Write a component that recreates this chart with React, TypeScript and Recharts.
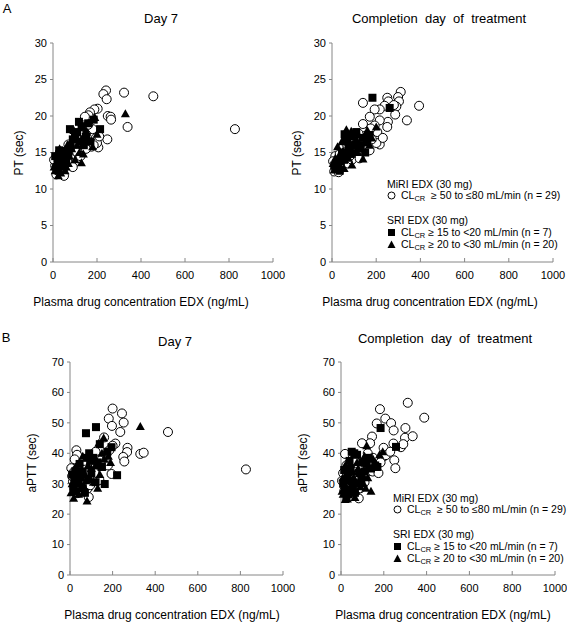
import React from 'react';
import { ScatterChart, Scatter, XAxis, YAxis } from 'recharts';

// axis ticks
const xTicks = [0, 200, 400, 600, 800, 1000];
const ptTicks = [0, 5, 10, 15, 20, 25, 30];
const apttTicks = [0, 10, 20, 30, 40, 50, 60, 70];

// [plasma EDX ng/mL, seconds]
const ptDay7Miri = [
  [827, 18.2], [456, 22.7], [323, 23.2], [241, 23.5], [229, 23.0], [244, 22.3], [339, 18.5], [247, 16.8],
  [206, 15.7], [249, 20.0], [262, 19.9], [264, 19.5], [203, 21.0], [188, 20.9], [168, 20.5], [161, 20.1],
  [145, 19.9], [180, 18.2], [195, 17.0], [200, 16.3], [175, 15.8], [150, 17.5], [120, 16.2], [95, 16.5],
  [70, 16.1], [60, 15.2], [40, 14.6], [25, 13.5], [15, 12.0], [30, 12.3], [45, 12.6], [55, 13.4],
  [80, 14.2], [100, 15.4], [130, 17.8], [140, 18.5], [160, 18.8], [110, 15.0], [20, 14.2], [10, 13.2],
  [35, 15.0], [65, 13.8], [90, 13.0], [50, 11.8], [75, 15.5], [125, 14.5], [185, 16.0], [210, 17.2],
  [150, 15.5], [5, 14.0],
];
const ptDay7Sri15 = [
  [77, 18.2], [118, 19.2], [214, 18.2], [55, 15.0], [130, 18.5], [100, 17.5], [90, 16.8], [150, 17.0],
  [170, 16.5], [185, 19.5], [40, 13.5], [30, 14.8], [20, 14.2], [15, 13.0], [60, 14.0], [110, 17.8],
  [140, 16.0], [25, 12.5], [45, 15.2], [70, 15.0], [120, 16.5], [160, 19.0], [35, 13.8], [80, 16.0],
  [10, 14.5], [50, 13.2], [28, 15.3], [65, 14.6],
];
const ptDay7Sri20 = [
  [329, 20.3], [129, 13.6], [24, 11.8], [138, 14.8], [180, 15.8], [160, 17.0], [100, 14.0], [60, 13.0],
  [10, 12.5], [20, 13.8], [30, 15.5], [40, 14.2], [15, 14.8], [50, 15.0], [70, 13.5], [85, 15.5],
  [110, 16.0], [130, 16.8], [150, 18.0], [190, 19.8], [95, 18.0], [45, 13.2], [35, 12.2], [25, 14.5],
  [5, 13.0], [120, 15.0], [65, 16.0], [75, 14.5], [55, 12.5], [200, 17.5], [12, 13.5], [38, 13.0],
];

const ptEndMiri = [
  [394, 21.4], [339, 19.4], [311, 23.3], [299, 22.6], [303, 22.0], [291, 21.3], [286, 20.2], [250, 22.5],
  [255, 22.0], [238, 21.4], [253, 19.2], [250, 18.5], [216, 19.4], [216, 20.9], [193, 20.9], [140, 21.8],
  [171, 19.9], [140, 18.9], [193, 18.7], [216, 16.1], [201, 16.3], [150, 17.3], [120, 17.6], [100, 16.9],
  [85, 15.8], [60, 15.2], [50, 14.4], [40, 13.2], [25, 12.8], [10, 12.4], [30, 12.3], [70, 13.5],
  [90, 14.0], [110, 15.0], [130, 16.5], [160, 17.2], [180, 16.8], [205, 17.8], [170, 15.3], [20, 13.5],
  [15, 14.5], [45, 15.5], [65, 16.2], [80, 14.5], [230, 17.0], [280, 21.5], [175, 18.3], [125, 14.2],
  [35, 14.8], [5, 13.8],
];
const ptEndSri15 = [
  [183, 22.5], [261, 21.1], [57, 17.5], [65, 16.5], [90, 17.2], [100, 16.0], [120, 15.6], [140, 17.0],
  [160, 16.5], [30, 14.0], [20, 13.5], [45, 15.0], [75, 15.5], [110, 17.8], [130, 16.0], [15, 12.8],
  [35, 12.5], [55, 14.0], [85, 14.8], [170, 17.4], [10, 13.2], [60, 17.0], [150, 15.0], [40, 13.8],
];
const ptEndSri20 = [
  [140, 14.1], [90, 13.3], [65, 18.1], [87, 17.9], [70, 17.0], [110, 16.8], [120, 17.4], [150, 16.3],
  [180, 17.0], [50, 15.2], [30, 14.5], [20, 13.0], [10, 12.6], [40, 14.0], [60, 14.8], [80, 15.8],
  [100, 15.0], [130, 15.5], [160, 18.0], [200, 18.5], [25, 15.8], [45, 16.5], [35, 13.3], [15, 14.2],
  [55, 12.8], [75, 14.2], [95, 16.2], [115, 15.0], [5, 13.5], [170, 16.0],
];

const apttDay7Miri = [
  [826, 34.7], [460, 47.0], [200, 54.7], [244, 53.1], [252, 50.1], [182, 51.4], [197, 49.0], [236, 47.0],
  [160, 45.2], [213, 43.2], [270, 41.8], [268, 40.4], [250, 38.8], [255, 37.3], [330, 39.8], [346, 40.2],
  [200, 42.5], [185, 41.0], [195, 33.2], [160, 36.0], [178, 36.0], [140, 35.8], [30, 41.0], [33, 39.5],
  [22, 38.0], [6, 35.1], [45, 33.5], [88, 25.6], [84, 28.5], [138, 31.2], [107, 32.4], [84, 34.0],
  [58, 35.7], [123, 36.8], [61, 29.1], [14, 30.7], [37, 26.9], [10, 32.5], [25, 29.0], [50, 31.0],
  [70, 30.5], [95, 29.5], [115, 33.5], [150, 38.0], [170, 39.5], [120, 40.5], [65, 37.5], [40, 28.0],
  [20, 34.0], [100, 36.5],
];
const apttDay7Sri15 = [
  [75, 46.6], [122, 48.6], [221, 32.8], [163, 29.9], [195, 42.0], [175, 40.5], [140, 43.0], [90, 40.0],
  [95, 37.5], [110, 38.5], [130, 37.0], [60, 34.0], [50, 32.0], [40, 30.0], [30, 27.5], [20, 31.5],
  [15, 29.0], [70, 27.0], [85, 31.5], [100, 33.5], [120, 30.5], [150, 35.5], [45, 36.5], [25, 34.0],
  [80, 38.5], [60, 28.5], [10, 33.0], [35, 31.0],
];
const apttDay7Sri20 = [
  [330, 48.8], [158, 45.0], [17, 25.2], [80, 24.3], [135, 43.3], [130, 28.5], [110, 30.5], [180, 39.0],
  [190, 37.0], [150, 40.0], [100, 35.0], [70, 33.0], [50, 30.0], [35, 32.0], [20, 28.0], [10, 30.0],
  [5, 27.0], [45, 37.0], [60, 39.0], [25, 35.5], [90, 32.0], [120, 36.0], [140, 33.0], [40, 26.5],
  [65, 29.0], [85, 36.0], [160, 38.0], [30, 30.5], [55, 34.5], [75, 31.0],
];

const apttEndMiri = [
  [312, 56.6], [389, 51.7], [182, 54.5], [207, 51.4], [167, 49.8], [234, 49.9], [246, 47.5], [245, 43.2],
  [301, 48.3], [299, 45.1], [335, 45.6], [280, 42.0], [291, 43.0], [249, 37.7], [254, 35.1], [199, 41.8],
  [200, 39.0], [145, 45.5], [136, 43.3], [98, 43.3], [125, 40.0], [19, 39.8], [39, 36.8], [117, 33.5],
  [83, 25.2], [148, 34.0], [164, 35.6], [210, 39.4], [175, 33.5], [230, 40.5], [150, 38.5], [105, 37.0],
  [60, 34.0], [30, 30.0], [15, 27.5], [50, 29.0], [75, 32.0], [90, 28.5], [10, 33.5], [25, 36.0],
  [65, 37.5], [130, 36.5], [185, 37.0], [45, 27.0], [110, 30.5], [5, 31.0],
];
const apttEndSri15 = [
  [185, 48.3], [257, 42.1], [50, 40.5], [62, 40.0], [75, 39.5], [100, 37.0], [120, 36.5], [140, 35.0],
  [160, 36.0], [170, 35.5], [30, 33.0], [40, 31.0], [55, 29.0], [70, 30.0], [85, 33.5], [20, 28.0],
  [35, 26.5], [10, 30.0], [45, 35.0], [95, 31.5], [110, 34.0], [130, 38.5], [25, 25.5], [65, 27.0],
  [15, 34.5], [40, 37.5],
];
const apttEndSri20 = [
  [120, 42.5], [140, 27.5], [110, 39.0], [150, 38.0], [180, 39.5], [100, 33.0], [80, 35.0], [60, 32.0],
  [40, 28.0], [20, 24.8], [30, 25.0], [10, 26.5], [50, 30.5], [70, 27.5], [90, 29.0], [130, 35.5],
  [160, 37.0], [45, 36.5], [25, 31.5], [15, 29.5], [55, 34.0], [75, 37.0], [85, 31.0], [105, 30.0],
  [5, 27.5], [65, 25.5], [35, 33.5], [115, 28.5], [125, 32.0], [195, 40.5], [20, 36.0], [8, 32.0],
];

const FONT = '"Liberation Sans", Arial, sans-serif';
const AXIS = '#868686';

const toPts = (arr: number[][]) => arr.map(([x, y]) => ({ x, y }));

const OpenCircle = (p: any) => (
  <circle cx={p.cx} cy={p.cy} r={4.5} fill="#fff" stroke="#000" strokeWidth={1} />
);
const FilledSquare = (p: any) => (
  <rect x={p.cx - 4} y={p.cy - 4} width={8} height={8} fill="#000" />
);
const FilledTriangle = (p: any) => (
  <polygon
    points={`${p.cx},${p.cy - 4.5} ${p.cx + 4.5},${p.cy + 3.5} ${p.cx - 4.5},${p.cy + 3.5}`}
    fill="#000"
  />
);

interface PanelProps {
  left: number;
  top: number;
  width: number;
  height: number;
  margin: { top: number; right: number; bottom: number; left: number };
  yAxisWidth: number;
  yMax: number;
  yTicks: number[];
  miri: number[][];
  sri15: number[][];
  sri20: number[][];
}

const Panel = (p: PanelProps) => (
  <div style={{ position: 'absolute', left: p.left, top: p.top }}>
    <ScatterChart width={p.width} height={p.height} margin={p.margin}>
      <XAxis
        type="number"
        dataKey="x"
        domain={[0, 1000]}
        ticks={xTicks}
        interval={0}
        height={20}
        stroke={AXIS}
        tickSize={-4}
        tickMargin={13}
        tick={{ fill: '#000', fontSize: 11, fontFamily: FONT }}
      />
      <YAxis
        type="number"
        dataKey="y"
        domain={[0, p.yMax]}
        ticks={p.yTicks}
        interval={0}
        width={p.yAxisWidth}
        stroke={AXIS}
        tickSize={3}
        tickMargin={3}
        tick={{ fill: '#000', fontSize: 11, fontFamily: FONT }}
      />
      <Scatter data={toPts(p.miri)} shape={OpenCircle} isAnimationActive={false} />
      <Scatter data={toPts(p.sri15)} shape={FilledSquare} isAnimationActive={false} />
      <Scatter data={toPts(p.sri20)} shape={FilledTriangle} isAnimationActive={false} />
    </ScatterChart>
  </div>
);

const Txt = ({ x, y, size, children, rotate }: any) => (
  <div
    style={{
      position: 'absolute',
      left: x,
      top: y,
      fontSize: size,
      fontFamily: FONT,
      whiteSpace: 'pre',
      lineHeight: 1,
      transform: `translate(-50%, -50%)${rotate ? ' rotate(-90deg)' : ''}`,
    }}
  >
    {children}
  </div>
);

const LegendRow = ({ x, y, symbol, children }: any) => (
  <div
    style={{
      position: 'absolute',
      left: x,
      top: y - 6,
      height: 12,
      lineHeight: '12px',
      fontSize: 10.5,
      fontFamily: FONT,
      whiteSpace: 'pre',
    }}
  >
    <svg width={9} height={9} style={{ marginRight: 5, verticalAlign: -1 }}>
      {symbol === 'circle' && <circle cx={4.5} cy={4.5} r={3.5} fill="#fff" stroke="#000" />}
      {symbol === 'square' && <rect x={1} y={1} width={7} height={7} fill="#000" />}
      {symbol === 'triangle' && <polygon points="4.5,0.5 8.5,8 0.5,8" fill="#000" />}
    </svg>
    {children}
  </div>
);

const Cl = () => (
  <span>
    CL<span style={{ fontSize: 7.5, position: 'relative', top: 2, lineHeight: 0 }}>CR</span>
  </span>
);

const KeyBox = ({ x, y }: { x: number; y: number }) => (
  <>
    <div style={{ position: 'absolute', left: x, top: y - 6, fontSize: 10.5, fontFamily: FONT, lineHeight: '12px' }}>
      MiRI EDX (30 mg)
    </div>
    <LegendRow x={x} y={y + 11} symbol="circle">
      <Cl />{'  ≥ 50 to ≤80 mL/min (n = 29)'}
    </LegendRow>
    <div style={{ position: 'absolute', left: x, top: y + 30, fontSize: 10.5, fontFamily: FONT, lineHeight: '12px' }}>
      SRI EDX (30 mg)
    </div>
    <LegendRow x={x} y={y + 48} symbol="square">
      <Cl />{' ≥ 15 to <20 mL/min (n = 7)'}
    </LegendRow>
    <LegendRow x={x} y={y + 60} symbol="triangle">
      <Cl />{' ≥ 20 to <30 mL/min (n = 20)'}
    </LegendRow>
  </>
);

const XTITLE = 'Plasma drug concentration EDX (ng/mL)';

export default function App() {
  return (
    <div style={{ position: 'absolute', left: 0, top: 0, width: 567, height: 623, background: '#fff', overflow: 'hidden' }}>
      <Panel
        left={0} top={0} width={300} height={290}
        margin={{ top: 43, right: 27, bottom: 8, left: 0 }}
        yAxisWidth={53} yMax={30} yTicks={ptTicks}
        miri={ptDay7Miri} sri15={ptDay7Sri15} sri20={ptDay7Sri20}
      />
      <Panel
        left={283} top={0} width={284} height={290}
        margin={{ top: 43, right: 14, bottom: 8, left: 0 }}
        yAxisWidth={49} yMax={30} yTicks={ptTicks}
        miri={ptEndMiri} sri15={ptEndSri15} sri20={ptEndSri20}
      />
      <Panel
        left={0} top={320} width={305} height={290}
        margin={{ top: 42, right: 22, bottom: 15, left: 0 }}
        yAxisWidth={70} yMax={70} yTicks={apttTicks}
        miri={apttDay7Miri} sri15={apttDay7Sri15} sri20={apttDay7Sri20}
      />
      <Panel
        left={283} top={320} width={284} height={290}
        margin={{ top: 42, right: 12, bottom: 15, left: 0 }}
        yAxisWidth={58} yMax={70} yTicks={apttTicks}
        miri={apttEndMiri} sri15={apttEndSri15} sri20={apttEndSri20}
      />

      <Txt x={7} y={8} size={13}>A</Txt>
      <Txt x={6} y={337} size={13}>B</Txt>

      <Txt x={161} y={18} size={13}>Day 7</Txt>
      <Txt x={439} y={18} size={13}>Completion  day  of  treatment</Txt>
      <Txt x={175} y={341} size={13}>Day 7</Txt>
      <Txt x={445} y={338} size={13}>Completion  day  of  treatment</Txt>

      <Txt x={19} y={153} size={12} rotate>PT (sec)</Txt>
      <Txt x={297} y={153} size={12} rotate>PT (sec)</Txt>
      <Txt x={32} y={463} size={12} rotate>aPTT (sec)</Txt>
      <Txt x={303} y={463} size={12} rotate>aPTT (sec)</Txt>

      <Txt x={141} y={302} size={12}>{XTITLE}</Txt>
      <Txt x={430} y={302} size={12}>{XTITLE}</Txt>
      <Txt x={172} y={615} size={12}>{XTITLE}</Txt>
      <Txt x={443} y={615} size={12}>{XTITLE}</Txt>

      <KeyBox x={387} y={184} />
      <KeyBox x={393} y={498} />
    </div>
  );
}
